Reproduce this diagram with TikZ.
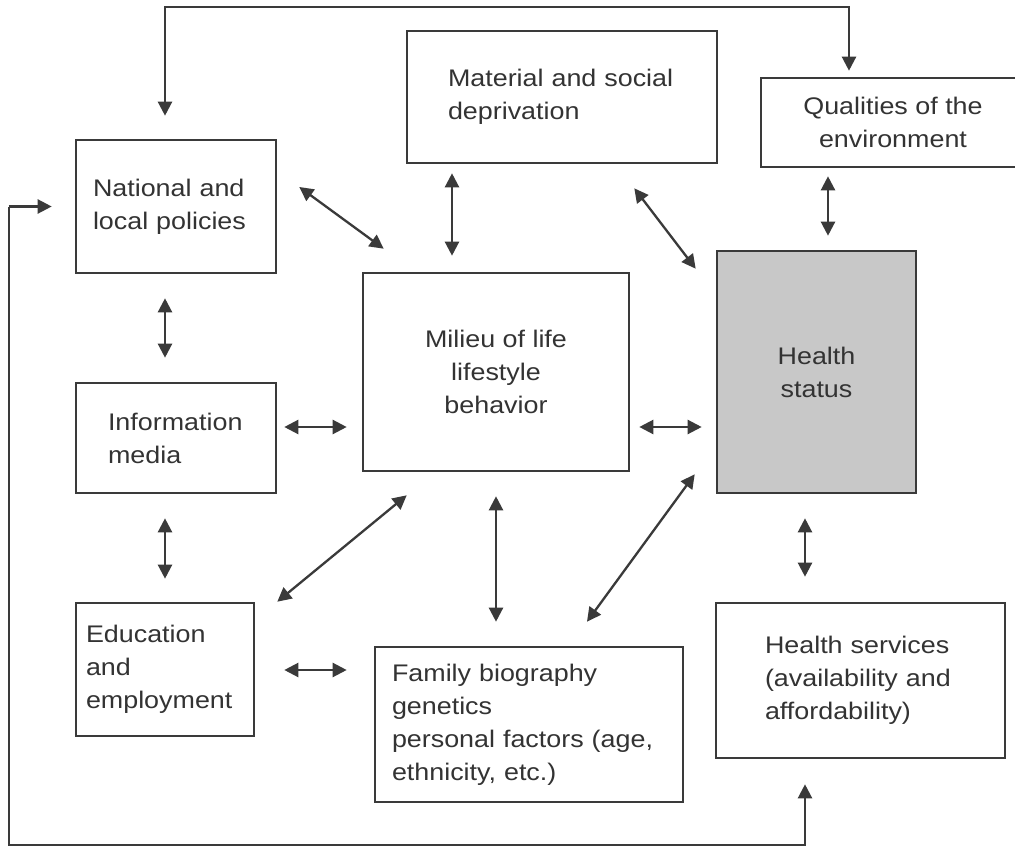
\documentclass[tikz,border=0pt]{standalone}
\usepackage{fontspec}
\setmainfont[FakeStretch=1.12]{Liberation Sans}
\usetikzlibrary{arrows.meta,calc}
\definecolor{txt}{HTML}{333333}
\definecolor{ln}{HTML}{3A3A3A}
\definecolor{hsfill}{HTML}{C8C8C8}
\begin{document}
\begin{tikzpicture}[x=1pt,y=-1pt,
  box/.style={draw=ln,line width=2.6pt,fill=white,text=txt,inner sep=0pt,
    font=\fontsize{24}{33}\selectfont},
  lbox/.style={box,align=left},
  arr/.style={draw=ln,line width=2.3pt,{Triangle[length=14pt,width=14pt]}-{Triangle[length=14pt,width=14pt]}},
  arrone/.style={draw=ln,line width=2.3pt,-{Triangle[length=14pt,width=14pt]}}]
\useasboundingbox (0,0) rectangle (1015,848);
\clip (0,0) rectangle (1015,848);
\fill[white] (0,0) rectangle (1015,848);
% boxes
\node[lbox,inner xsep=17pt,text width=166pt,minimum height=133pt] (nat) at (176,206.5) {National and\\local policies};
\node[lbox,inner xsep=41pt,text width=228pt,minimum height=132pt] (mat) at (562,97) {Material and social\\deprivation};
\node[box,align=center,minimum width=264pt,minimum height=89pt] (qual) at (893,122.5) {Qualities of the\\environment};
\node[box,align=center,minimum width=266pt,minimum height=198pt] (mil) at (496,372) {Milieu of life\\lifestyle\\behavior};
\node[box,align=center,fill=hsfill,minimum width=199pt,minimum height=242pt] (hs) at (816.5,372) {Health\\status};
\node[lbox,inner xsep=32pt,text width=136pt,minimum height=110pt] (info) at (176,438) {Information\\media};
\node[lbox,inner xsep=10pt,text width=158pt,minimum height=133pt] (edu) at (165,669.5) {Education\\and\\employment};
\node[lbox,inner xsep=17pt,text width=274pt,minimum height=155pt] (fam) at (529,724.5) {Family biography\\genetics\\personal factors (age,\\ethnicity, etc.)};
\node[lbox,inner xsep=49pt,text width=191pt,minimum height=155pt] (serv) at (860.5,680.5) {Health services\\(availability and\\affordability)};
% feedback loops
\draw[arr] ($(nat.north)+(-11,-23)$) -- ++(0,-109) -| ($(qual.north)+(-44,-6)$);
\draw[arrone] ($(nat.west)+(-66,0)$) -- ($(nat.west)+(-23,0)$);
\draw[arrone] ($(nat.west)+(-66,0)$) -- ++(0,638.5) -| ($(serv.south)+(-55.5,25)$);
% two-headed connectors
\draw[arr] ($(nat.south)+(-11,24)$) -- ($(info.north)+(-11,-24)$);
\draw[arr] ($(info.south)+(-11,24)$) -- ($(edu.north)+(0,-23)$);
\draw[arr] ($(info.east)+(7,-11)$) -- ($(mil.west)+(-15,55)$);
\draw[arr] ($(mil.east)+(9,55)$) -- ($(hs.west)+(-14,55)$);
\draw[arr] ($(nat.east)+(22,-19.5)$) -- ($(mil.north west)+(22,-23)$);
\draw[arr] ($(mat.south)+(-110,9)$) -- ($(mil.north)+(-44,-16)$);
\draw[arr] ($(mat.south east)+(-84,24)$) -- ($(hs.north west)+(-20,19)$);
\draw[arr] ($(qual.south)+(-65,8)$) -- ($(hs.north)+(11.5,-14)$);
\draw[arr] ($(hs.south)+(-11.5,24)$) -- ($(serv.north)+(-55.5,-25)$);
\draw[arr] ($(edu.north east)+(22,0)$) -- ($(mil.south west)+(45,23)$);
\draw[arr] ($(mil.south)+(0,24)$) -- ($(fam.north)+(-33,-24)$);
\draw[arr] ($(fam.north)+(58,-24)$) -- ($(hs.south west)+(-21,-20)$);
\draw[arr] ($(edu.east)+(29,0.5)$) -- ($(fam.west)+(-27,-54.5)$);
\end{tikzpicture}
\end{document}
